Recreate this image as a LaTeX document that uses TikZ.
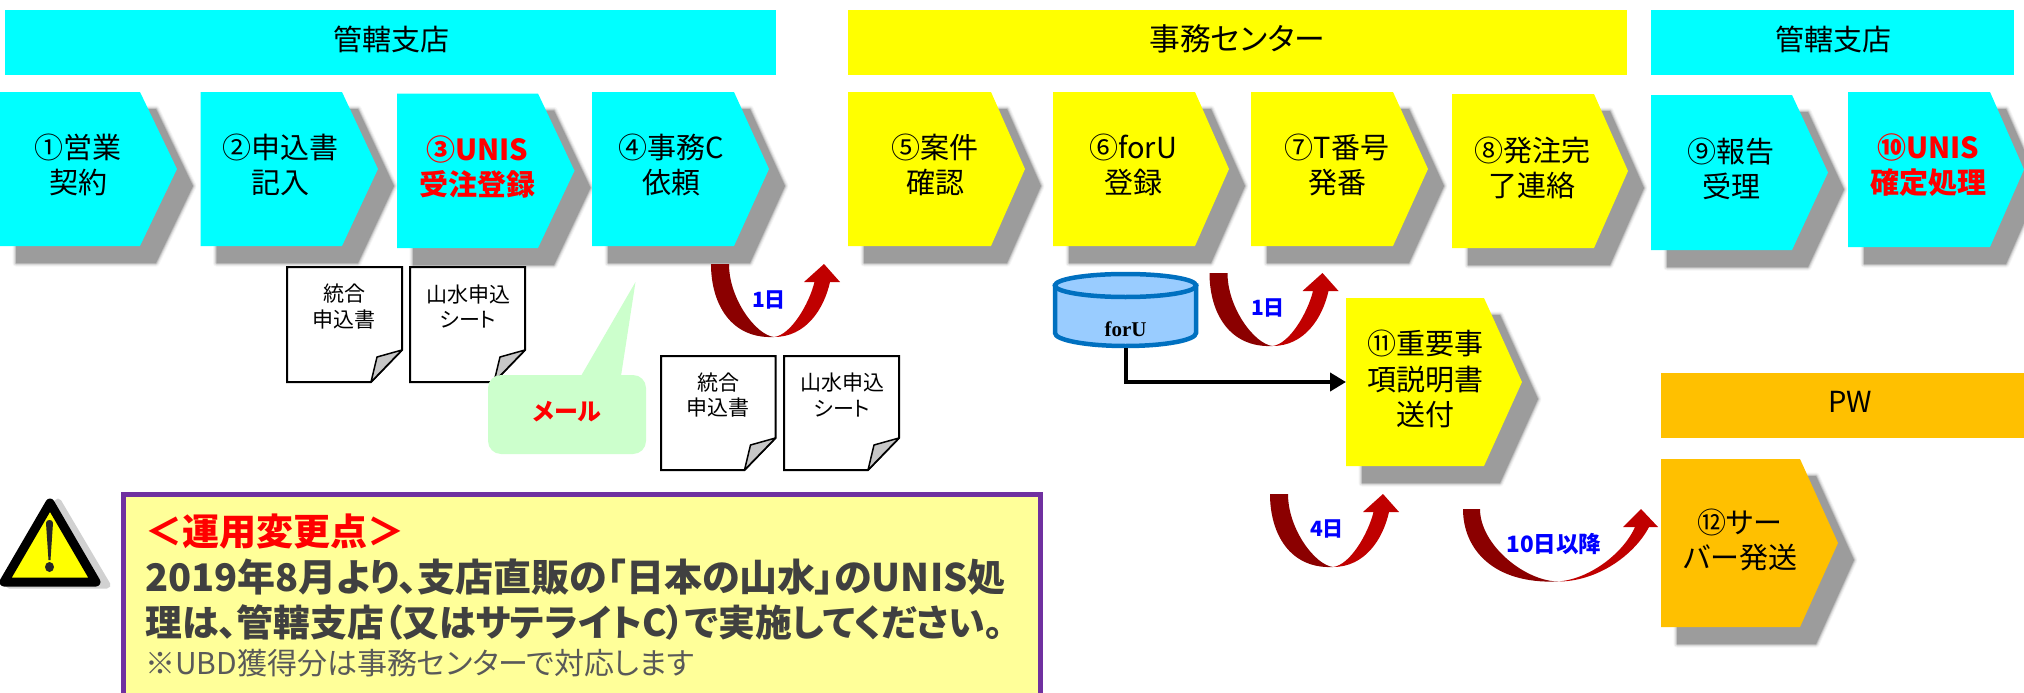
\documentclass[tikz,border=0pt]{standalone}
\usepackage{fontspec}
\usetikzlibrary{arrows.meta}
\setmainfont[RawFeature=+palt]{Noto Sans CJK JP}
\newfontfamily\serifb{Liberation Serif}
\definecolor{cy}{HTML}{00FFFF}
\definecolor{ye}{HTML}{FFFF00}
\definecolor{or}{HTML}{FFC000}
\definecolor{darkR}{HTML}{8B0000}
\definecolor{midR}{HTML}{C00000}
\definecolor{purp}{HTML}{7030A0}
\definecolor{pale}{HTML}{FFFF99}
\definecolor{mint}{HTML}{CCFFCC}
\definecolor{gt}{HTML}{404040}
\definecolor{gl}{HTML}{595959}
\definecolor{dbline}{HTML}{0070C0}
\definecolor{dbfill}{HTML}{99CCFF}
\definecolor{shad}{HTML}{9C9C9C}
\tikzset{
  hdr/.style={inner sep=0pt,font=\fontsize{29}{35}\selectfont,text=black},
  lbl/.style={inner sep=0pt,align=center,font=\fontsize{29}{35.5}\selectfont,text=black},
  lblred/.style={inner sep=0pt,align=center,font=\fontsize{29}{34.5}\selectfont\bfseries,text=red},
  doclbl/.style={inner sep=0pt,align=center,font=\fontsize{21}{25.5}\selectfont,text=black},
  daylbl/.style={inner sep=0pt,font=\fontsize{21}{24}\selectfont\bfseries,text=blue},
  txtline/.style={inner sep=0pt,anchor=west,font=\fontsize{38}{42}\selectfont\bfseries,text=gt},
  docshape/.style={draw=black,line width=2pt,fill=white,line join=miter},
  flow/.style={draw=black,line width=4pt,-{Triangle[length=16pt,width=18pt]}}
}
% name, x0, shoulder, tip, top, bottom, colour
\newcommand\chevbox[7]{%
  \foreach \w/\g in {7/10,5/25,3/45,1.5/70}{%
    \draw[line width=\w pt,draw=shad!\g!white,line join=round,shift={(16,17)}]
      (#2,#5)--(#3,#5)--(#4,{(#5+#6)/2})--(#3,#6)--(#2,#6)--cycle;}%
  \fill[shad,shift={(16,17)}] (#2,#5)--(#3,#5)--(#4,{(#5+#6)/2})--(#3,#6)--(#2,#6)--cycle;
  \fill[#7] (#2,#5)--(#3,#5)--(#4,{(#5+#6)/2})--(#3,#6)--(#2,#6)--cycle;
  \node[inner sep=0pt,outer sep=0pt,minimum width={(#4-#2)*1pt},minimum height={(#6-#5)*1pt}] (#1) at ({(#2+#4)/2},{(#5+#6)/2}) {};%
}
% x, y
\newcommand\uturn[2]{%
  \begin{scope}[shift={(#1,#2)}]
    \fill[darkR] (0,0)--(18,0) .. controls (18,35) and (45,71) .. (63,73) .. controls (20,75) and (0,40) .. (0,0)--cycle;
    \fill[midR] (63,73) .. controls (95,73) and (113,45) .. (119,18)--(129,18)--(113,0)--(93,18)--(103.5,18) .. controls (98,40) and (80,71) .. (63,73)--cycle;
  \end{scope}}
% x, y
\newcommand\uturnwide[2]{%
  \begin{scope}[shift={(#1,#2)}]
    \fill[darkR] (0,0)--(17,0) .. controls (17,35) and (60,71) .. (94,72.5) .. controls (30,75) and (0,40) .. (0,0)--cycle;
    \fill[midR] (94,72.5) .. controls (135,73) and (172,45) .. (186,18)--(195,18)--(178,0)--(160,18)--(172,18) .. controls (160,45) and (125,71) .. (94,72.5)--cycle;
  \end{scope}}
% name, x0, x1, y0, y1
\newcommand\docpage[5]{%
  \draw[docshape] (#2,#4)--(#3,#4)--(#3,#5-32)--(#3-31,#5)--(#2,#5)--cycle;
  \draw[fill=black!22,line width=1.5pt,line join=round] (#3,#5-32)--(#3-31,#5)--(#3-25,#5-25)--cycle;
  \node[inner sep=0pt,minimum width={(#3-#2)*1pt},minimum height={(#5-#4)*1pt}] (#1) at ({(#2+#3)/2},{(#4+#5)/2}) {};%
}
\begin{document}
\begin{tikzpicture}[x=1pt,y=-1pt]
\path[use as bounding box,clip] (0,0) rectangle (2024,693);
\fill[white] (0,0) rectangle (2024,693);
% header bars
\fill[cy] (5,10) rectangle (776,75);
\fill[ye] (848,10) rectangle (1627,75);
\fill[cy] (1651,10) rectangle (2014,75);
\fill[or] (1661,373) rectangle (2024,438);
\node[hdr] (h1) at (391,39) {管轄支店};
\node[hdr,font=\fontsize{30.8}{35}\selectfont] (h2) at (1237,39) {事務センター};
\node[hdr] (h3) at (1833,39) {管轄支店};
\node[hdr] (h4) at (1850,402) {PW};
% chevrons
\chevbox{s1}{0}{140}{177}{92}{246}{cy}
\chevbox{s2}{200.5}{342}{378}{92}{246}{cy}
\chevbox{s3}{397}{538}{574.5}{93.5}{248}{cy}
\chevbox{s4}{592}{734}{769}{92}{246}{cy}
\chevbox{s5}{848}{991}{1025}{92}{246}{ye}
\chevbox{s6}{1053}{1195}{1229}{92}{246}{ye}
\chevbox{s7}{1251}{1393}{1428}{92}{246}{ye}
\chevbox{s8}{1452}{1594}{1628}{94}{248}{ye}
\chevbox{s9}{1651}{1792}{1828}{95}{250}{cy}
\chevbox{s10}{1848}{1990}{2024}{92}{247}{cy}
\chevbox{s11}{1346}{1484}{1522}{298}{466}{ye}
\chevbox{s12}{1661}{1800}{1838}{459}{627}{or}
\node[lbl] (t1) at (78,165) {①営業\\契約};
\node[lbl] (t2) at (280,165) {②申込書\\記入};
\node[lblred] (t3) at (477,167) {③UNIS\\受注登録};
\node[lbl] (t4) at (671,165) {④事務C\\依頼};
\node[lbl] (t5) at (935,165) {⑤案件\\確認};
\node[lbl] (t6) at (1133,165) {⑥forU\\登録};
\node[lbl] (t7) at (1337,165) {⑦T番号\\発番};
\node[lbl] (t8) at (1532,168) {⑧発注完\\了連絡};
\node[lbl] (t9) at (1731,169) {⑨報告\\受理};
\node[lblred] (t10) at (1928,165) {⑩UNIS\\確定処理};
\node[lbl] (t11) at (1425,379) {⑪重要事\\項説明書\\送付};
\node[lbl] (t12) at (1740,540) {⑫サー\\バー発送};
% documents
\docpage{d1}{287}{402}{267}{382}
\docpage{d2}{410}{525}{267}{382}
\docpage{d3}{661}{775.5}{356}{470}
\docpage{d4}{784}{899}{356}{470}
\node[doclbl] (dt1) at (344,306.5) {統合\\申込書};
\node[doclbl] (dt2) at (468,306.5) {山水申込\\シート};
\node[doclbl] (dt3) at (718,395) {統合\\申込書};
\node[doclbl] (dt4) at (842,395) {山水申込\\シート};
% mail callout
\fill[mint,rounded corners=13pt] (488,375) rectangle (646,454);
\fill[mint] (581,376)--(635.5,282)--(621,376)--cycle;
\node[inner sep=0pt,font=\fontsize{24}{28}\selectfont\bfseries,text=red] (mail) at (567,412) {メール};
% day arrows
\uturn{711}{264}
\uturn{1209.5}{273}
\uturn{1270}{494}
\uturnwide{1463}{509}
\node[daylbl] (a1) at (769,300) {1日};
\node[daylbl] (a2) at (1268,308) {1日};
\node[daylbl] (a3) at (1327,529) {4日};
\node[daylbl,font=\fontsize{22.5}{26}\selectfont\bfseries] (a4) at (1554,544) {10日以降};
% forU database
\node[inner sep=0pt,outer sep=0pt,minimum width=146pt,minimum height=76pt] (foru) at (1125.5,310) {};
\draw[draw=dbline,fill=dbfill,line width=4.5pt]
  (1055,285.5) -- (1196,285.5) -- (1196,333) arc[x radius=70.5,y radius=13,start angle=0,end angle=180] -- cycle;
\draw[draw=dbline,fill=dbfill,line width=4.5pt]
  (1125.5,285.5) ellipse[x radius=70.5,y radius=11.5];
\node[inner sep=0pt,font=\serifb\fontsize{21}{24}\selectfont\bfseries,text=black] (forut) at (1125.5,329) {forU};
\draw[flow] (foru.south) |- (s11.west);
% warning triangle
\draw[fill=black!18,draw=black!18,line width=7pt,line join=round] (58,502)--(107,585)--(9,585)--cycle;
\draw[fill=ye,draw=black,line width=9pt,line join=round] (50,503)--(96,582)--(4,582)--cycle;
\fill[black!85] (46,523) .. controls (46,519) and (53,519) .. (53,523)--(50.5,560)--(48.5,560)--cycle;
\fill[black!85] (49.5,567) ellipse[x radius=4.5,y radius=5];
% note box
\draw[fill=pale,draw=purp,line width=5pt] (123,494) rectangle (1040,700);
\node[txtline,text=red,font=\fontsize{37}{42}\selectfont\bfseries] (n1) at (145,532) {＜運用変更点＞};
\node[txtline] (n2) at (145,577) {2019年8月より、支店直販の「日本の山水」のUNIS処};
\node[txtline,font=\fontsize{36.8}{42}\selectfont\bfseries] (n3) at (145,622) {理は、管轄支店（又はサテライトC）で実施してください。};
\node[txtline,font=\fontsize{30}{34}\selectfont,text=gl] (n4) at (145,663) {※UBD獲得分は事務センターで対応します};
\end{tikzpicture}
\end{document}
